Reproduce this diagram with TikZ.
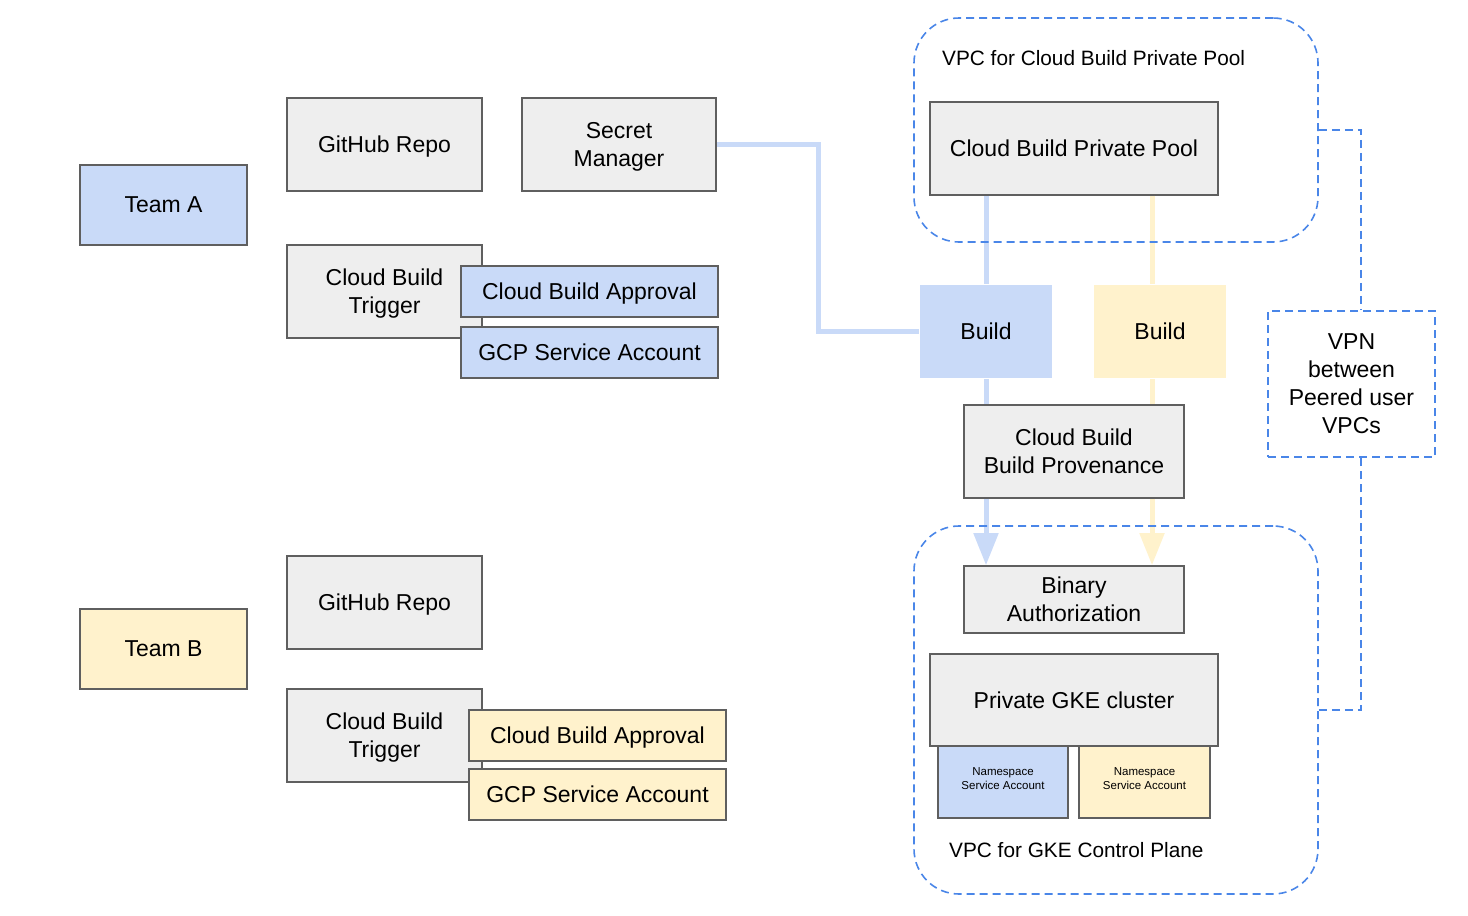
\documentclass[tikz,border=0pt]{standalone}
\usepackage{fontspec}
\setmainfont{Liberation Sans}
\usetikzlibrary{arrows.meta}
\definecolor{teamblue}{HTML}{C9DAF8}
\definecolor{teamyellow}{HTML}{FFF2CC}
\definecolor{boxgray}{HTML}{EEEEEE}
\definecolor{edgegray}{HTML}{5F5F5F}
\definecolor{vpcblue}{HTML}{4A86E8}
\tikzset{
  box/.style={draw=edgegray, fill=boxgray, line width=1.6pt, align=center,
    inner sep=0pt, text depth=0pt, font=\fontsize{23}{28}\selectfont},
  boxa/.style={box, fill=teamblue},
  boxb/.style={box, fill=teamyellow},
  buildbox/.style={box, draw=none},
  nsbox/.style={box, text depth=7pt, font=\fontsize{11.5}{14}\selectfont},
  vpc/.style={draw=vpcblue, line width=1.6pt, dash pattern=on 8pt off 5pt,
    rounded corners=45pt, minimum width=404pt, minimum height=224pt, inner sep=0pt},
  vpclabel/.style={anchor=west, inner sep=0pt, font=\fontsize{20.8}{25}\selectfont},
  vpnline/.style={draw=vpcblue, line width=1.6pt, dash pattern=on 8pt off 5pt},
  flowa/.style={draw=teamblue, line width=5pt},
  flowb/.style={draw=teamyellow, line width=5pt},
  tip/.style={-{Triangle[length=32pt,width=24pt]}}
}
\begin{document}
\begin{tikzpicture}[x=1pt, y=-1pt]
  \useasboundingbox (0,0) rectangle (1468,916);
  % team A
  \node[boxa, minimum width=167pt, minimum height=80pt] (teama) at (163.5,205) {Team A};
  \node[box, minimum width=195pt, minimum height=93pt] (repoa) at (384.5,144.5) {GitHub Repo};
  \node[box, minimum width=194pt, minimum height=93pt] (secret) at (619,144.5) {Secret\\Manager};
  \node[box, minimum width=195pt, minimum height=93pt] (triga) at (384.5,291.5) {Cloud Build\\Trigger};
  \node[boxa, minimum width=257pt, minimum height=51pt] (appra) at (589.5,291.5) {Cloud Build Approval};
  \node[boxa, minimum width=257pt, minimum height=51pt] (saa) at (589.5,352.5) {GCP Service Account};
  % team B
  \node[boxb, minimum width=167pt, minimum height=80pt] (teamb) at (163.5,649) {Team B};
  \node[box, minimum width=195pt, minimum height=93pt] (repob) at (384.5,602.5) {GitHub Repo};
  \node[box, minimum width=195pt, minimum height=93pt] (trigb) at (384.5,735.5) {Cloud Build\\Trigger};
  \node[boxb, minimum width=257pt, minimum height=51pt] (apprb) at (597.5,735.5) {Cloud Build Approval};
  \node[boxb, minimum width=257pt, minimum height=51pt] (sab) at (597.5,794.5) {GCP Service Account};
  % build path
  \node[box, minimum width=288pt, minimum height=93pt] (pool) at (1074,148.5) {Cloud Build Private Pool};
  \node[buildbox, fill=teamblue, minimum width=132pt, minimum height=93pt] (builda) at (986,331.5) {Build};
  \node[buildbox, fill=teamyellow, minimum width=132pt, minimum height=93pt] (buildb) at (1160,331.5) {Build};
  \node[box, minimum width=220pt, minimum height=93pt] (prov) at (1074,451.5) {Cloud Build\\Build Provenance};
  \node[box, minimum width=220pt, minimum height=67pt] (binauth) at (1074,599.5) {Binary\\Authorization};
  \node[nsbox, fill=teamblue, minimum width=130pt, minimum height=72pt] (nsa) at (1003,782)
    {Namespace\\Service Account};
  \node[nsbox, fill=teamyellow, minimum width=131pt, minimum height=72pt] (nsb) at (1144.5,782)
    {Namespace\\Service Account};
  \node[box, minimum width=288pt, minimum height=92pt] (gke) at (1074,700) {Private GKE cluster};
  % connectors
  \coordinate (lanea) at (986,0);
  \coordinate (laneb) at (1152,0);
  \coordinate (vpnlane) at (1361,0);
  \coordinate (bend) at (818,144.5);
  \draw[flowa] (secret.east) -- (bend) |- (builda.west);
  \draw[flowa] (pool.south -| lanea) -- (builda.north);
  \draw[flowa] (builda.south) -- (prov.north -| lanea);
  \draw[flowa, tip] (prov.south -| lanea) -- (binauth.north -| lanea);
  \draw[flowb] (pool.south -| laneb) -- (buildb.north -| laneb);
  \draw[flowb] (buildb.south -| laneb) -- (prov.north -| laneb);
  \draw[flowb, tip] (prov.south -| laneb) -- (binauth.north -| laneb);
  % containers
  \node[vpc] (vpcpool) at (1116,130) {};
  \node[vpc, minimum height=368pt] (vpcgke) at (1116,710) {};
  \node[vpclabel] (poollabel) at (942,58) {VPC for Cloud Build Private Pool};
  \node[vpclabel] (gkelabel) at (949,850) {VPC for GKE Control Plane};
  \node[box, fill=white, vpnline, minimum width=167pt, minimum height=146pt] (vpn) at (1351.5,384)
    {VPN\\between\\Peered user\\VPCs};
  \draw[vpnline] (vpcpool.east) -| (vpn.north -| vpnlane);
  \draw[vpnline] (vpcgke.east) -| (vpn.south -| vpnlane);
\end{tikzpicture}
\end{document}
